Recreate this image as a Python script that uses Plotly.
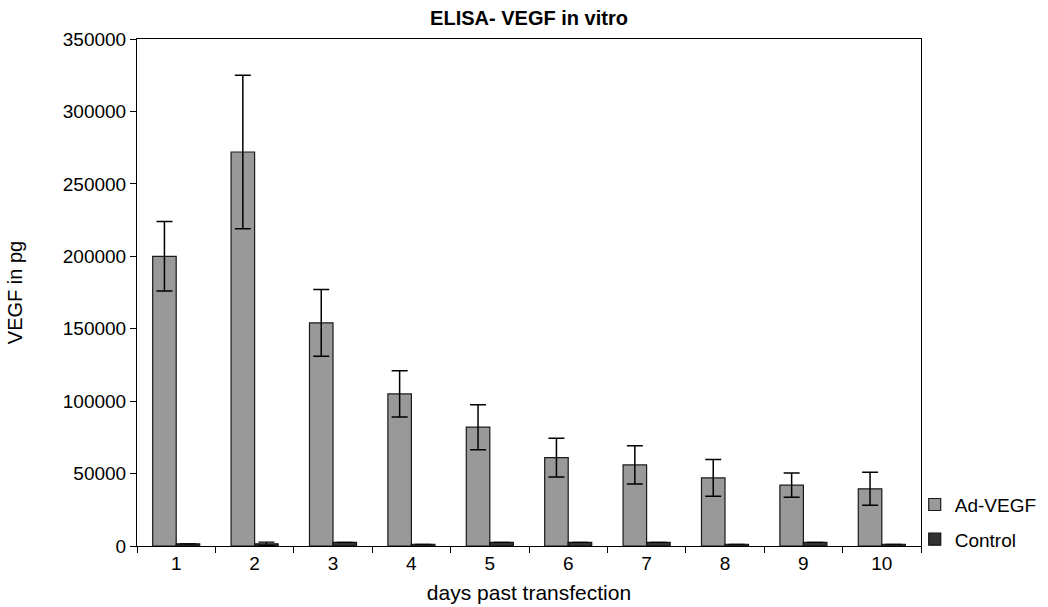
import plotly.graph_objects as go

# ELISA readings of VEGF (pg) over ten days after transfection
days = ["1", "2", "3", "4", "5", "6", "7", "8", "9", "10"]
ad_vegf = [200000, 272000, 154000, 105000, 82000, 61000, 56000, 47000, 42000, 39500]
ad_vegf_err = [24000, 53000, 23000, 16000, 15500, 13300, 13200, 12700, 8400, 11400]
control = [1500, 1500, 2500, 1200, 2500, 2500, 2500, 1200, 2500, 1200]
control_err = [0, 1200, 0, 0, 0, 0, 0, 0, 0, 0]

y_ticks = [0, 50000, 100000, 150000, 200000, 250000, 300000, 350000]

FONT = "Liberation Sans, Arial, Helvetica, sans-serif"

fig = go.Figure()
fig.add_trace(go.Bar(
    name="Ad-VEGF", x=days, y=ad_vegf, legendgroup="a",
    marker=dict(color="#999999", line=dict(color="#1a1a1a", width=1.2)),
    error_y=dict(type="data", array=ad_vegf_err, visible=True,
                 color="black", thickness=1.5, width=8),
))
fig.add_trace(go.Bar(
    name="Control", x=days, y=control, legendgroup="b",
    marker=dict(color="#333333", line=dict(color="#111111", width=1.2)),
    error_y=dict(type="data", array=control_err, visible=True,
                 color="black", thickness=1.2, width=8),
))

fig.update_layout(
    width=1048, height=607,
    margin=dict(l=137, r=127, t=39, b=61, autoexpand=False),
    paper_bgcolor="white", plot_bgcolor="white",
    barmode="group", bargap=0.4, bargroupgap=0,
    font=dict(family=FONT, size=19, color="black"),
    title=dict(text="<b>ELISA- VEGF in vitro</b>", x=(137 + 921) / 2 / 1048,
               xanchor="center", y=1 - 18 / 607, yanchor="middle",
               font=dict(size=20)),
    legend=dict(x=0.992, xanchor="left", y=0.119, yanchor="top",
                tracegroupgap=7, font=dict(size=19),
                bgcolor="rgba(0,0,0,0)"),
    showlegend=True,
)
fig.update_xaxes(
    title=dict(text="days past transfection", standoff=12, font=dict(size=21)),
    automargin=False,
    type="category", tickson="boundaries", ticks="outside", ticklen=6,
    tickcolor="black", showline=True, linecolor="black", linewidth=1,
    mirror=True, showgrid=False, zeroline=False,
)
fig.update_yaxes(
    title=dict(text="VEGF in pg", standoff=34, font=dict(size=20)),
    automargin=False,
    range=[0, 350000], tickvals=y_ticks, tickformat="d",
    ticks="outside", ticklen=6, tickcolor="black",
    showline=True, linecolor="black", linewidth=1, mirror=True,
    showgrid=False, zeroline=False,
)

fig.write_html("out.html")
